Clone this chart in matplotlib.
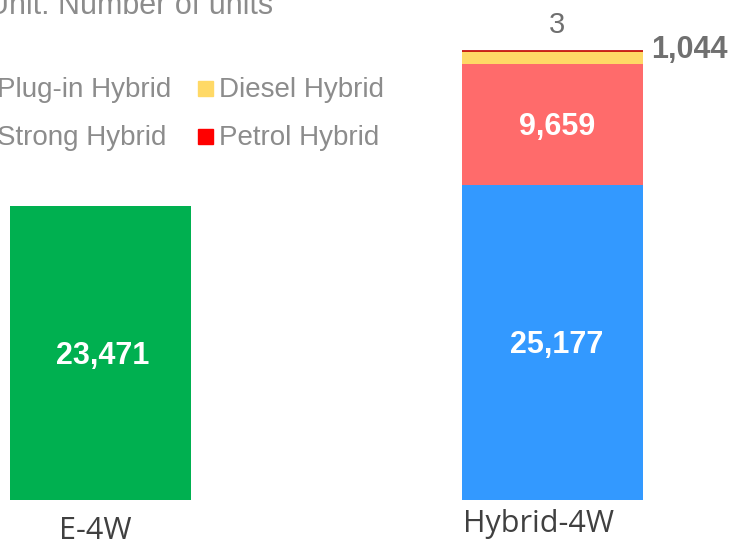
import matplotlib.pyplot as plt
from matplotlib.patches import Rectangle

# values (units)
categories = ["E-4W", "Hybrid-4W"]
e4w_units = [23471, 0]
strong_hybrid = [0, 25177]
plugin_hybrid = [0, 9659]
diesel_hybrid = [0, 1044]
petrol_hybrid = [0, 3]

legend_names = ["Plug-in Hybrid", "Strong Hybrid", "Diesel Hybrid", "Petrol Hybrid"]
legend_colors = ["#FF6B6B", "#3399FF", "#FFD966", "#FF0000"]

W, H = 733, 542
fig = plt.figure(figsize=(W / 100, H / 100), dpi=100)
ax = fig.add_axes([0, 42 / H, 1, 500 / H])

def px(x, y):
    # pixel (from top-left) -> figure fraction
    return x / W, 1 - y / H

width = 0.4
x = [0, 1]
ax.bar(x, e4w_units, width, color="#00B050")
ax.bar(x, strong_hybrid, width, color="#3399FF")
b1 = [s for s in strong_hybrid]
ax.bar(x, plugin_hybrid, width, bottom=b1, color="#FF6B6B")
b2 = [a + b for a, b in zip(b1, plugin_hybrid)]
ax.bar(x, diesel_hybrid, width, bottom=b2, color="#FFD966")
b3 = [a + b for a, b in zip(b2, diesel_hybrid)]
# petrol is only 3 units -> give it an edge so the sliver shows
ax.bar(x, petrol_hybrid, width, bottom=b3, color="#C00000",
       edgecolor="#C00000", linewidth=[0, 1.2])
total = [a + b for a, b in zip(b3, petrol_hybrid)]

ax.set_xlim(-0.2221, 1.3978)
ax.set_ylim(0, 39940)
ax.axis("off")

lab = dict(color="white", fontsize=22, fontweight="bold", textcoords="offset pixels",
           family="Liberation Sans", ha="center", va="center")
ax.annotate(f"{e4w_units[0]:,}", xy=(0, e4w_units[0] / 2), xytext=(2, -3), **lab)
ax.annotate(f"{strong_hybrid[1]:,}", xy=(1, strong_hybrid[1] / 2), xytext=(4, -3), **lab)
ax.annotate(f"{plugin_hybrid[1]:,}", xy=(1, b1[1] + plugin_hybrid[1] / 2), xytext=(4, -3), **lab)

ax.annotate(f"{petrol_hybrid[1]:,}", xy=(1, total[1]), xytext=(4, 26),
            textcoords="offset pixels", ha="center", va="center",
            fontsize=21, color="#6F6F6F", family="Liberation Sans")
ax.annotate(f"{diesel_hybrid[1]:,}", xy=(1 + width / 2, b2[1] + diesel_hybrid[1] / 2),
            xytext=(8, 7), textcoords="offset pixels", ha="left", va="center",
            fontsize=22, fontweight="bold", color="#707070", family="Liberation Sans")

# category labels
cat_off = [(-5, -39), (-14.5, -32)]
for i, c in enumerate(categories):
    ax.annotate(c, xy=(i, 0), xytext=cat_off[i], textcoords="offset pixels",
                ha="center", va="baseline", fontsize=22, color="#404040",
                family="Open Sans")

# unit note
fig.text(*px(-13, 14), "Unit: Number of units", ha="left", va="baseline",
         fontsize=22, color="#8C8C8C", family="Liberation Sans")

# legend
col_x = [-24, 198]
row_y = [81, 129]
for k, (name, col) in enumerate(zip(legend_names, legend_colors)):
    cx = col_x[k // 2]
    ry = row_y[k % 2]
    fx, fy = px(cx, ry + 15)
    fig.add_artist(Rectangle((fx, fy), 15 / W, 15 / H, color=col,
                             transform=fig.transFigure))
    fig.text(*px(cx + 21, ry + 16), name, ha="left", va="baseline",
             fontsize=20, color="#8C8C8C", family="Liberation Sans")

fig.savefig("out.png", dpi=100)
